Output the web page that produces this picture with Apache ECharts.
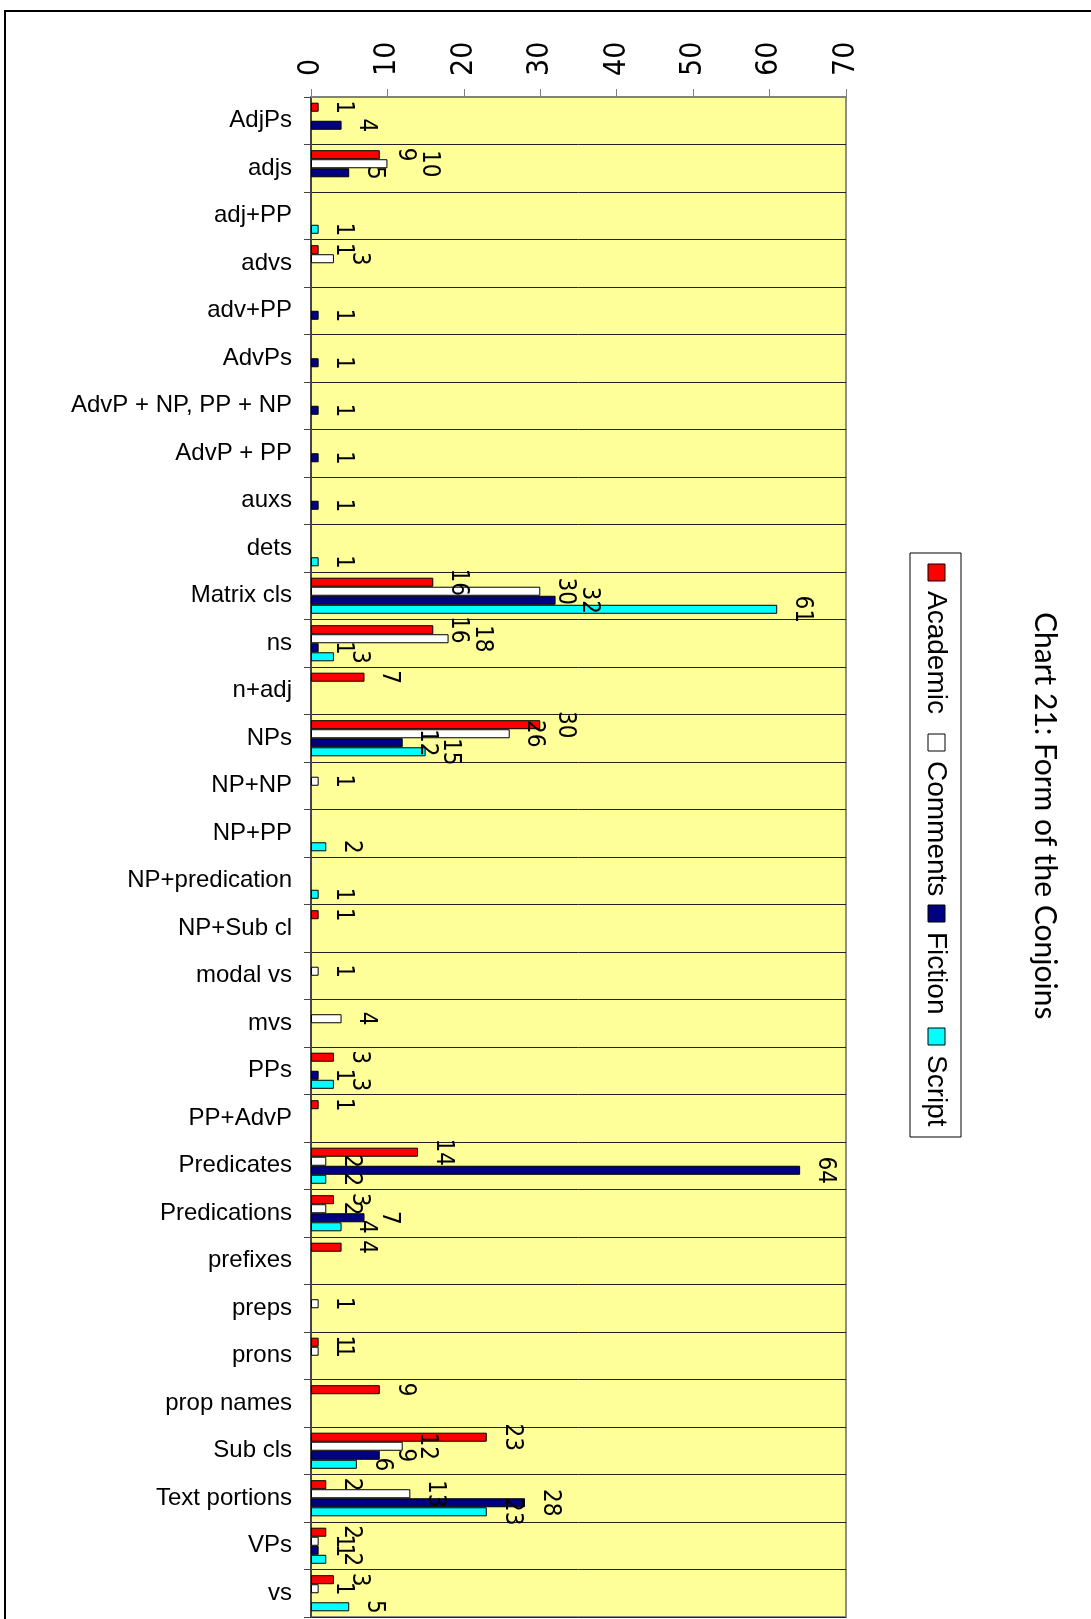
<!DOCTYPE html>
<html>
<head>
<meta charset="utf-8">
<script src="https://cdn.jsdelivr.net/npm/echarts@6/dist/echarts.min.js"></script>
<style>
html,body{margin:0;padding:0;background:#fff;}
#chart{width:1091px;height:1619px;}
</style>
</head>
<body>
<div id="chart"></div>
<script>
const titleText = 'Chart 21: Form of the Conjoins';
const categories = ['AdjPs','adjs','adj+PP','advs','adv+PP','AdvPs','AdvP + NP, PP + NP','AdvP + PP','auxs','dets','Matrix cls','ns','n+adj','NPs','NP+NP','NP+PP','NP+predication','NP+Sub cl','modal vs','mvs','PPs','PP+AdvP','Predicates','Predications','prefixes','preps','prons','prop names','Sub cls','Text portions','VPs','vs'];
const seriesNames = ['Academic','Comments','Fiction','Script'];
const academic = [1,9,0,1,0,0,0,0,0,0,16,16,7,30,0,0,0,1,0,0,3,1,14,3,4,0,1,9,23,2,2,3];
const comments = [0,10,0,3,0,0,0,0,0,0,30,18,0,26,1,0,0,0,1,4,0,0,2,2,0,1,1,0,12,13,1,1];
const fiction  = [4,5,0,0,1,1,1,1,1,0,32,1,0,12,0,0,0,0,0,0,1,0,64,7,0,0,0,0,9,28,1,0];
const script   = [0,0,1,0,0,0,0,0,0,1,61,3,0,15,0,2,1,0,0,0,3,0,2,4,0,0,0,0,6,23,2,5];
const valueTicks = [0,10,20,30,40,50,60,70];

const colors = ['#FF0000','#FFFFFF','#000080','#00FFFF'];
const narrow = "'Liberation Sans Narrow','Arial Narrow','DejaVu Sans Condensed',sans-serif";
const regular = "'Liberation Sans',Arial,sans-serif";

const W = 1091, H = 1619;
const gridLeft = 311, gridRight = 245, gridTop = 97, gridBottom = 2;
const labelDist = 13, labelFont = 24;

const chart = echarts.init(document.getElementById('chart'), null, {renderer:'canvas'});
const allData = [academic, comments, fiction, script];

// keep neighbouring rotated value labels of one category from sitting on top of each other
const vMax = valueTicks[valueTicks.length - 1];
const ppu = (W - gridLeft - gridRight) / vMax;
const band = (H - gridTop - gridBottom) / categories.length;
const barW = band * 0.76 / 4;
const shifts = allData.map(a => a.map(() => 0));
categories.forEach((c, d) => {
  const placed = [];
  allData.forEach((arr, s) => {
    const v = arr[d];
    if (!v) return;
    const yc = (s - 1.5) * barW;
    const len = String(v).length * labelFont * 0.456;
    const box = {x0: v * ppu + labelDist, w: labelFont, y0: yc - len / 2, y1: yc + len / 2};
    const nat = box.x0;
    placed.forEach(q => {
      const yOv = Math.min(box.y1, q.y1) - Math.max(box.y0, q.y0);
      const xOv = Math.min(box.x0 + box.w, q.x0 + q.w) - Math.max(box.x0, q.x0);
      if (yOv > 3 && xOv > 6) box.x0 = q.x0 + q.w;
    });
    shifts[s][d] = box.x0 - nat;
    placed.push(box);
  });
});

// label offsets are expressed in the label's rotated frame: its local -y points to screen +x
const series = allData.map((arr, i) => ({
  name: seriesNames[i],
  type: 'bar',
  data: arr.map((v, d) => v === 0 ? null : (shifts[i][d] ? {value: v, label: {offset: [0, -shifts[i][d]]}} : v)),
  barGap: '0%',
  barCategoryGap: '24%',
  itemStyle: {color: colors[i], borderColor: '#000', borderWidth: 1},
  label: {
    show: true,
    position: 'right',
    distance: labelDist,
    rotate: -90,
    align: 'center',
    verticalAlign: 'bottom',
    color: '#000',
    fontSize: labelFont,
    fontFamily: narrow,
    formatter: p => (p.value == null ? '' : String(p.value))
  },
  emphasis: {disabled: true},
  animation: false
}));

// legend drawn rotated (clockwise) with graphic elements
const markerU = [11, 181, 352, 475];
const legendChildren = [{
  type: 'rect', shape: {x: 0, y: -25.5, width: 584, height: 51},
  style: {fill: '#fff', stroke: '#000', lineWidth: 1}
}];
seriesNames.forEach((n, i) => {
  legendChildren.push({
    type: 'rect', shape: {x: markerU[i], y: -9.5, width: 17, height: 17},
    style: {fill: colors[i], stroke: '#000', lineWidth: 1}
  });
  legendChildren.push({
    type: 'text', x: markerU[i] + 27, y: 0,
    style: {text: n, fill: '#000', font: "28px 'Liberation Sans', Arial, sans-serif", textAlign: 'left', textVerticalAlign: 'middle'}
  });
});

const option = {
  backgroundColor: '#fff',
  animation: false,
  grid: {left: gridLeft, right: gridRight, top: gridTop, bottom: gridBottom, show: true, backgroundColor: '#FFFF99', borderColor: '#8c8c8c', borderWidth: 2},
  xAxis: {
    type: 'value', position: 'top',
    min: valueTicks[0], max: vMax, interval: valueTicks[1] - valueTicks[0],
    axisLine: {show: true, lineStyle: {color: '#808080', width: 2}},
    axisTick: {show: true, length: 8, lineStyle: {color: '#808080', width: 1}},
    splitLine: {show: false},
    axisLabel: {rotate: -90, margin: 21, fontSize: 30, fontFamily: narrow, color: '#000'}
  },
  yAxis: {
    type: 'category', inverse: true, data: categories,
    axisLine: {show: true, lineStyle: {color: '#444', width: 2}},
    axisTick: {show: true, length: 7, lineStyle: {color: '#444', width: 1}},
    splitLine: {show: true, lineStyle: {color: '#222', width: 1}},
    axisLabel: {margin: 19, fontSize: 24, fontFamily: regular, color: '#000', interval: 0}
  },
  series: series,
  graphic: [
    {type: 'rect', shape: {x: 5, y: 11, width: 1200, height: 1800}, style: {fill: 'none', stroke: '#000', lineWidth: 2}, z: -1, silent: true},
    {type: 'group', x: 935.5, y: 553, rotation: -Math.PI / 2, children: legendChildren},
    {type: 'text', x: 1045, y: 612, rotation: -Math.PI / 2,
     style: {text: titleText, fill: '#000', font: "30px Lato, 'Open Sans', sans-serif", textAlign: 'left', textVerticalAlign: 'middle'}}
  ]
};
chart.setOption(option);
</script>
</body>
</html>
